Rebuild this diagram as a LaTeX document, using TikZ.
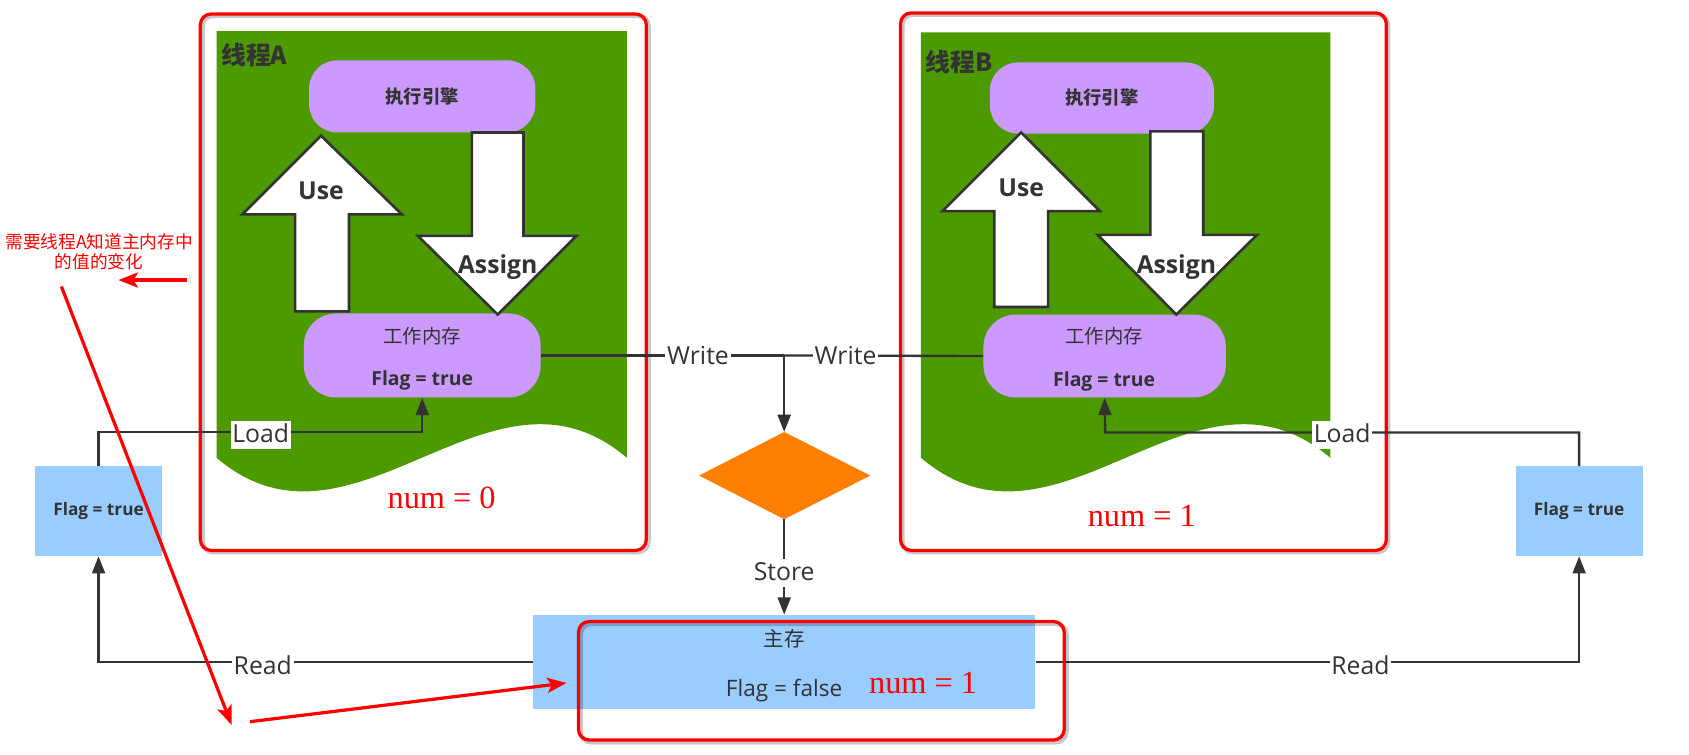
\documentclass[tikz,border=0pt]{standalone}
\usepackage{fontspec}
\setmainfont{Open Sans}
\newfontfamily\cjk{Noto Sans CJK SC}
\newfontfamily\tnr{Liberation Serif}
\usetikzlibrary{arrows.meta,calc}
\definecolor{dg}{HTML}{333333}
\definecolor{grn}{HTML}{4D9900}
\definecolor{pur}{HTML}{CC99FF}
\definecolor{lblue}{HTML}{99CCFF}
\definecolor{org}{HTML}{FF8000}
\definecolor{rd}{HTML}{FF0000}
\begin{document}
\begin{tikzpicture}[x=0.5pt,y=-0.5pt,
  conn/.style={draw=dg,line width=1.1pt},
  darr/.style={-{Triangle[length=8pt,width=6pt]}},
  lbl/.style={fill=white,inner sep=0.8pt,text=dg,text height=9pt,text depth=2.5pt,font=\fontsize{11.5}{13}\selectfont},
  blockarrow/.style={fill=white,draw=dg,line width=1.2pt,line join=miter},
  arrowtext/.style={text=dg,font=\bfseries\fontsize{11.5}{13}\selectfont,inner sep=0pt},
  pill/.style={fill=pur,rounded corners=13pt,inner sep=0pt,text=dg},
  pilltext/.style={text=dg,inner sep=0pt},
  flagbox/.style={fill=lblue,inner sep=0pt,text=dg,font=\bfseries\fontsize{8}{10}\selectfont},
  redframe/.style={draw=rd,line width=1.5pt,rounded corners=5pt,inner sep=0pt},
  shadowframe/.style={draw=black,opacity=0.22,line width=2.2pt,rounded corners=5pt,inner sep=0pt},
  rednum/.style={text=rd,font=\tnr\fontsize{15}{17}\selectfont,inner sep=0pt},
  redarrow/.style={draw=rd,line width=1.5pt,-{Stealth[length=9pt,width=7pt,inset=2pt]}},
  threadtitle/.style={text=dg,font=\cjk\bfseries\fontsize{11.5}{13}\selectfont,inner sep=0pt,anchor=west}
]
\useasboundingbox (0,0) rectangle (1568,700);

% ---------- red frames (shadows) ----------
\node[shadowframe,minimum width=207pt,minimum height=249pt] (frameAs) at (395,263.5) {};
\node[shadowframe,minimum width=225.5pt,minimum height=249.5pt] (frameBs) at (1063,263) {};

\node[redframe,minimum width=207pt,minimum height=249pt] (frameA) at (393,262) {};
\node[redframe,minimum width=225.5pt,minimum height=249.5pt] (frameB) at (1061.5,261.5) {};

% ---------- green thread areas ----------
\fill[grn] (201,29) -- (582,29) -- (582,425) .. controls (455,317) and (328,533) .. (201,425) -- cycle;
\fill[grn] (855,30) -- (1235,30) -- (1235,425) .. controls (1108,317) and (982,533) .. (855,425) -- cycle;

\node[threadtitle] (titleA) at (205,51) {线程A};
\node[threadtitle] (titleB) at (859,58) {线程B};

% ---------- pills ----------
\node[pill,minimum width=105pt,minimum height=33.5pt,font=\cjk\bfseries\fontsize{8.5}{10}\selectfont] (execA) at (392,89.5) {执行引擎};
\node[pill,minimum width=110pt,minimum height=39pt,rounded corners=15pt] (workA) at (392,330) {};
\node[pilltext,font=\cjk\fontsize{9}{11}\selectfont] (workAt1) at (392,312) {工作内存};
\node[pilltext,font=\bfseries\fontsize{9}{11}\selectfont] (workAt2) at (392,353) {Flag = true};
\node[pill,minimum width=104pt,minimum height=33pt,font=\cjk\bfseries\fontsize{8.5}{10}\selectfont] (execB) at (1023,91) {执行引擎};
\node[pill,minimum width=112.5pt,minimum height=38.5pt,rounded corners=15pt] (workB) at (1025.5,330.5) {};
\node[pilltext,font=\cjk\fontsize{9}{11}\selectfont] (workBt1) at (1025,312) {工作内存};
\node[pilltext,font=\bfseries\fontsize{9}{11}\selectfont] (workBt2) at (1025,354) {Flag = true};

% ---------- block arrows ----------
\draw[blockarrow] (274,289) -- (274,199) -- (225,199) -- (298,126) -- (373,199) -- (324,199) -- (324,289) -- cycle;
\node[arrowtext] (useA) at (298,177) {Use};
\draw[blockarrow] (438,123) -- (438,219) -- (388,219) -- (462,292) -- (535,219) -- (486,219) -- (486,123) -- cycle;
\node[arrowtext] (assignA) at (462,248) {Assign};

\draw[blockarrow] (923,285) -- (923,196) -- (875,196) -- (948,123) -- (1021,196) -- (973,196) -- (973,285) -- cycle;
\node[arrowtext] (useB) at (948,174) {Use};
\draw[blockarrow] (1068,122) -- (1068,218) -- (1019,218) -- (1092,292) -- (1167,218) -- (1117,218) -- (1117,122) -- cycle;
\node[arrowtext] (assignB) at (1092,248) {Assign};

% ---------- nums in frames ----------
\node[rednum] (numA) at (410,462) {num = 0};
\node[rednum] (numB) at (1060,479) {num = 1};

% ---------- side flag boxes ----------
\node[flagbox,minimum width=59pt,minimum height=41.5pt] (lflag) at (91.5,474.5) {Flag = true};
\node[flagbox,minimum width=59pt,minimum height=41.5pt] (rflag) at (1466,474.5) {Flag = true};

% ---------- diamond ----------
\path[fill=org] (728,401) -- (808,441.5) -- (728,482) -- (649,441.5) -- cycle;
\node[inner sep=0pt,minimum size=0pt] (dia) at (728,441.5) {};
\coordinate (diaN) at (728,401);
\coordinate (diaS) at (728,482);

% ---------- main memory ----------
\node[fill=lblue,minimum width=233pt,minimum height=43.5pt,inner sep=0pt] (main) at (728,614.5) {};
\node[pilltext,font=\cjk\fontsize{9.5}{11}\selectfont] (mainT1) at (728,593) {主存};
\node[pilltext,font=\fontsize{10.5}{12}\selectfont] (mainT2) at (728,641) {Flag = false};

% ---------- connectors ----------
\coordinate (jw) at (728,330);
\coordinate (loadAc) at (392,401);
\coordinate (loadBc) at (1026,401.5);
\draw[conn] (workA.east) -- (jw);
\draw[conn] (workB.west) -- (jw);
\draw[conn,darr] (jw) -- (diaN);
\draw[conn,darr] (diaS) -- (main.north);
\draw[conn,darr] (lflag.north) |- (loadAc) -- (workA.south);
\draw[conn,darr] (rflag.north) |- (loadBc) -- (workB.south);
\draw[conn,darr] (main.west) -| (lflag.south);
\draw[conn,darr] (main.east) -| (rflag.south);

\node[lbl] (writeA) at (648,332) {Write};
\node[lbl] (writeB) at (785,332) {Write};
\node[lbl] (loadA) at (242,404) {Load};
\node[lbl] (loadB) at (1246,404) {Load};
\node[lbl] (store) at (728,532) {Store};
\node[lbl] (readA) at (244,620) {Read};
\node[lbl] (readB) at (1263,620) {Read};

% ---------- main red frame ----------
\node[shadowframe,minimum width=225.5pt,minimum height=55pt] (frameMs) at (764.5,634) {};
\node[redframe,minimum width=225.5pt,minimum height=55pt] (frameM) at (762.5,632) {};
\node[rednum] (numM) at (857,634) {num = 1};

% ---------- annotation ----------
\node[text=rd,align=center,inner sep=0pt,font=\cjk\fontsize{8.2}{9.2}\selectfont] (note) at (92,234)
  {需要线程A知道主内存中\\的值的变化};
\coordinate (r1s) at (174,260);
\coordinate (r1e) at (110,260);
\coordinate (r2s) at (57,266);
\coordinate (r2e) at (215,673);
\coordinate (r3s) at (232,670);
\coordinate (r3e) at (526,634);
\draw[redarrow] (r1s) -- (r1e);
\draw[redarrow] (r2s) -- (r2e);
\draw[redarrow] (r3s) -- (r3e);
\end{tikzpicture}
\end{document}
